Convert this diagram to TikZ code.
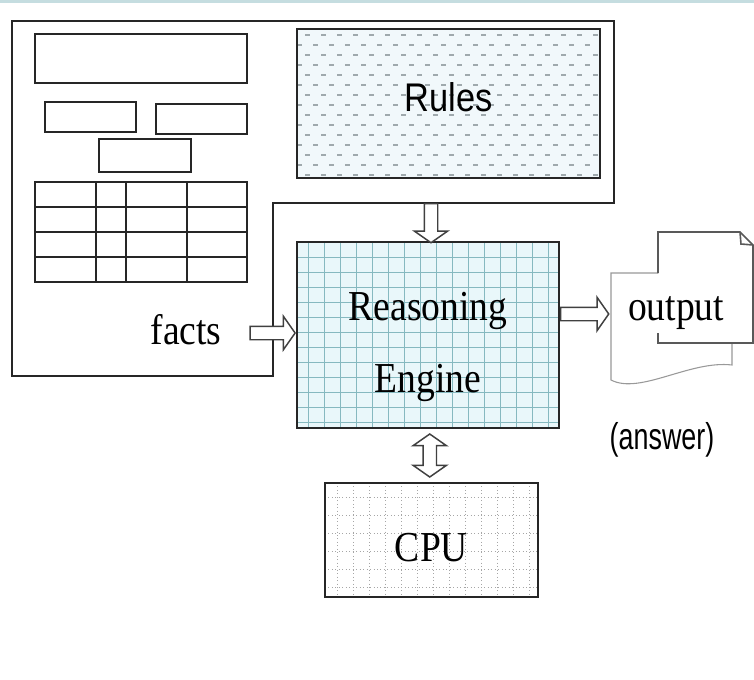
\documentclass[tikz,border=0pt]{standalone}
\usepackage{fontspec}
\setmainfont{Liberation Serif}[FakeStretch=0.88]
\newfontfamily\rulesfont{Liberation Sans}[FakeStretch=0.86]
\newfontfamily\narrowfont{Liberation Sans}[FakeStretch=0.72]
\usetikzlibrary{arrows.meta,calc,positioning,shapes.arrows}

\newlength\unitpx
\setlength\unitpx{0.75pt}

\definecolor{stripe}{HTML}{C5DDE0}
\definecolor{rulesbg}{HTML}{F1F8FB}
\definecolor{rulesdash}{HTML}{9FA9AD}
\definecolor{enginebg}{HTML}{E9F7FA}
\definecolor{gridteal}{HTML}{86B9C0}

\begin{document}
\begin{tikzpicture}[
  x=0.75pt, y=-0.75pt,
  frame/.style={draw=black!85, line width=1.5pt},
  slot/.style={draw=black!85, line width=1.4pt},
  block/.style={
    draw=black!85,
    line width=1.5pt,
    rectangle,
    inner sep=0pt
  },
  serifbig/.style={font=\fontsize{32}{54}\selectfont, inner sep=0pt},
  rulesfill/.style={
    fill=rulesbg,
    path picture={
      \foreach \r [evaluate=\r as \ph using {mod(\r,2)*6}] in {1,...,15}
        \draw[rulesdash, line width=0.8pt, dash pattern=on 3.75pt off 8.25pt, dash phase=\ph pt]
          ($(path picture bounding box.north west)+(0,\r*10-4)$) --
          ($(path picture bounding box.north east)+(0,\r*10-4)$);
    }
  },
  enginefill/.style={
    fill=enginebg,
    path picture={
      \foreach \i in {1,...,16}
        \draw[gridteal, line width=0.6pt]
          ($(path picture bounding box.north west)+(\i*16-5,0)$) --
          ($(path picture bounding box.south west)+(\i*16-5,0)$);
      \foreach \j in {1,...,12}
        \draw[gridteal, line width=0.6pt]
          ($(path picture bounding box.north west)+(0,\j*15)$) --
          ($(path picture bounding box.north east)+(0,\j*15)$);
    }
  },
  cpufill/.style={
    fill=white,
    path picture={
      \foreach \i in {1,...,13}
        \draw[black!35, line width=0.6pt, dotted]
          ($(path picture bounding box.north west)+(\i*16-4,0)$) --
          ($(path picture bounding box.south west)+(\i*16-4,0)$);
      \foreach \j in {1,...,6}
        \draw[black!35, line width=0.6pt, dotted]
          ($(path picture bounding box.north west)+(0,\j*18-4)$) --
          ($(path picture bounding box.north east)+(0,\j*18-4)$);
    }
  },
  fatarrow/.style={
    single arrow,
    draw=black!75,
    line width=1.1pt,
    fill=white,
    inner sep=4.5pt,
    minimum width=0pt,
    single arrow head extend=7.5pt,
    single arrow tip angle=110
  },
  twinarrow/.style={
    double arrow,
    draw=black!75,
    line width=1.1pt,
    fill=white,
    inner sep=4.5pt,
    minimum width=0pt,
    double arrow head extend=7.5pt,
    double arrow tip angle=110
  },
  pageback/.style={draw=black!40, line width=0.8pt},
  pagefront/.style={draw=black!65, line width=1.2pt}
]
\fill[white] (0,0) rectangle (754,679);
\useasboundingbox (0,0) rectangle (754,679);
\fill[stripe] (0,0) rectangle (754,3);

% knowledge base frame
\draw[frame] (12,21) -- (614,21) -- (614,203) -- (273,203) -- (273,376) -- (12,376) -- cycle;
\draw[slot] (35,34) rectangle (247,83);
\draw[slot] (45,102) rectangle (136,132);
\draw[slot] (156,104) rectangle (247,134);
\draw[slot] (99,139) rectangle (191,172);
\draw[slot] (35,182) rectangle (247,282);
\foreach \y in {207,232,257}
  \draw[slot] (35,\y) -- (247,\y);
\foreach \x in {96,126,187}
  \draw[slot] (\x,182) -- (\x,282);
\coordinate (ledge) at (431,203);

\node[block, rulesfill, minimum width=303\unitpx, minimum height=149\unitpx,
  font=\rulesfont\fontsize{30}{36}\selectfont, text depth=9pt] (rules) at (448.5,103.5) {Rules};
\node[block, enginefill, minimum width=262\unitpx, minimum height=186\unitpx] (engine) at (428,335) {};
\node[serifbig, align=center] (enginetext) at ($(engine.center)+(0,12)$) {Reasoning\\Engine};
\node[block, cpufill, minimum width=213\unitpx, minimum height=114\unitpx,
  font=\fontsize{32}{38}\selectfont, text height=33pt] (cpu) at (431.5,540) {CPU};

\node[serifbig] (facts) at (186,330) {facts};

% output document
\draw[pageback] (658,273) -- (611,273) -- (611,380)
  .. controls (640,395) and (690,360) .. (732,365) -- (732,343);
\draw[pagefront] (658,273) -- (658,232) -- (740,232) -- (753,245) -- (753,343) -- (658,343) -- (658,333);
\draw[pagefront] (740,232) -- (741,244) -- (753,245);
\node[serifbig] (output) at (676,313) {output};
\node[font=\narrowfont\fontsize{28}{32}\selectfont, inner sep=0pt] (answer) at (662,440) {(answer)};

\node[fatarrow, minimum height=45\unitpx, anchor=tip] (factsarrow) at ($(engine.west)+(0,-2)$) {};
\node[fatarrow, minimum height=48\unitpx, anchor=tail] (outarrow) at ($(engine.east)+(0,-21)$) {};
\node[fatarrow, rotate=-90, minimum height=39\unitpx, anchor=tail] (rulesarrow) at (ledge) {};
\node[twinarrow, rotate=90, minimum height=43\unitpx] (cpuarrow) at ($(engine.south)!.5!(cpu.north)$) {};
\end{tikzpicture}
\end{document}
